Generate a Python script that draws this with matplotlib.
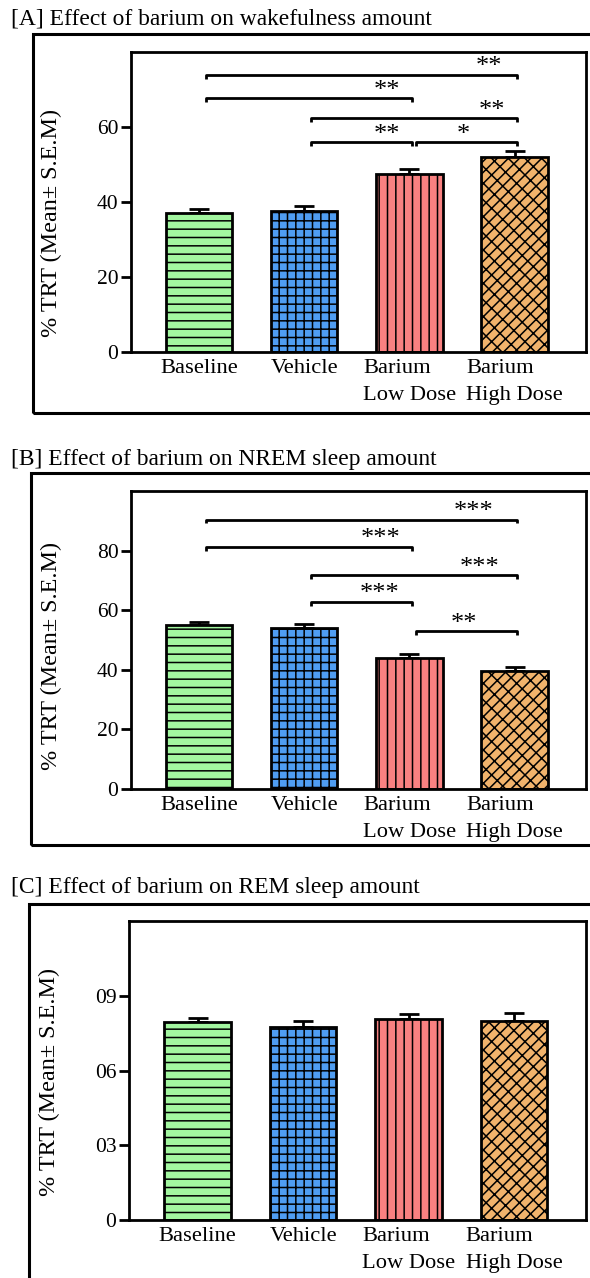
#!/usr/bin/env python3
"""Barium effect on sleep-wake amounts, three stacked bar panels
"""

import numpy as np
import matplotlib; matplotlib.use('Agg')
import matplotlib.pyplot as plt
from matplotlib.patches import Rectangle

plt.rcParams['font.family'] = ['Liberation Serif', 'DejaVu Serif']
plt.rcParams['hatch.linewidth'] = 1.1

W, H = 590, 1278

groups = ['Baseline', 'Vehicle', 'Barium\nLow Dose', 'Barium\nHigh Dose']
colors = ['#a3f7a0', '#4f9df2', '#f98181', '#f1b36c']
hatches = ['--', '++', '||', '///\\\\']

wake_mean = [37.0, 37.5, 47.5, 52.0]
wake_sem = [1.2, 1.5, 1.2, 1.5]
nrem_mean = [55.0, 54.0, 44.0, 39.5]
nrem_sem = [1.2, 1.5, 1.3, 1.5]
rem_mean = [7.95, 7.75, 8.05, 8.0]
rem_sem = [0.15, 0.25, 0.2, 0.3]

# (from group, to group, bracket height, stars, star position along bracket)
wake_sig = [(0, 3, 73.9, '**', 0.91), (0, 2, 67.7, '**', 0.88),
            (1, 3, 62.4, '**', 0.88), (1, 2, 56.0, '**', 0.76),
            (2, 3, 56.0, '*', 0.47)]
nrem_sig = [(0, 3, 90.4, '***', 0.86), (0, 2, 81.3, '***', 0.85),
            (1, 3, 71.7, '***', 0.82), (1, 2, 62.8, '***', 0.68),
            (2, 3, 52.9, '**', 0.48)]

panels = [
    dict(title='[A] Effect of barium on wakefulness amount', mean=wake_mean, sem=wake_sem,
         ylim=80, ticks=[0, 20, 40, 60], ticklabels=['0', '20', '40', '60'], sig=wake_sig,
         title_y=19, box=(33, 34, 413), ax=(131, 586, 52, 352), label_y=0.43),
    dict(title='[B] Effect of barium on NREM sleep amount', mean=nrem_mean, sem=nrem_sem,
         ylim=100, ticks=[0, 20, 40, 60, 80], ticklabels=['0', '20', '40', '60', '80'], sig=nrem_sig,
         title_y=460, box=(31, 473, 845), ax=(131, 586, 491, 789), label_y=0.445),
    dict(title='[C] Effect of barium on REM sleep amount', mean=rem_mean, sem=rem_sem,
         ylim=12, ticks=[0, 3, 6, 9], ticklabels=['0', '03', '06', '09'], sig=[],
         title_y=887, box=(29, 904, 1300), ax=(129, 586, 921, 1220), label_y=0.46),
]

##########################################################
def draw_panel(fig, p):
    """One bar panel with outer frame"""
    x0, top, bot = p['box']
    fig.add_artist(Rectangle((x0 / W, 1 - bot / H), 1.2, (bot - top) / H,
                             transform=fig.transFigure, fill=False, lw=2.2, ec='black'))
    fig.text(11 / W, 1 - p['title_y'] / H, p['title'], fontsize=16.9, va='center', ha='left')

    l, r, t, b = p['ax']
    ax = fig.add_axes([l / W, 1 - b / H, (r - l) / W, (b - t) / H])
    x = np.arange(len(groups))
    ax.bar(x, p['mean'], width=0.63, color=colors, edgecolor='black', linewidth=2.0,
           hatch=hatches, zorder=2)
    ax.errorbar(x, p['mean'], yerr=[np.zeros(len(x)), p['sem']], fmt='none',
                ecolor='black', elinewidth=2.0, capsize=7, capthick=2.0, zorder=1)

    ym = p['ylim']
    drop = ym * 0.013
    for i, j, y, s, f in p['sig']:
        xs, xe = i + 0.06, j + 0.02
        ax.plot([xs, xs, xe, xe], [y - drop, y, y, y - drop], color='black', lw=2.0,
                solid_capstyle='butt')
        ax.text(xs + f * (xe - xs), y - ym * 0.012, s, ha='center', va='bottom',
                fontsize=19)

    ax.set_xlim(-0.65, 3.68)
    ax.set_ylim(0, ym)
    ax.set_yticks(p['ticks'])
    ax.set_yticklabels(p['ticklabels'])
    ax.set_xticks(x)
    ax.set_xticklabels(groups, multialignment='left', linespacing=1.55)
    ax.tick_params(axis='x', length=0, pad=5, labelsize=16.2)
    ax.tick_params(axis='y', length=7, width=2.0, pad=2, labelsize=15.5)
    for sp in ax.spines.values():
        sp.set_linewidth(2.0)
    ax.set_ylabel('% TRT (Mean\u00b1 S.E.M)', fontsize=17.4)
    ax.yaxis.set_label_coords(-0.152, p['label_y'])
    return ax

##########################################################
def main():
    fig = plt.figure(figsize=(W / 100, H / 100), dpi=100)
    for p in panels:
        draw_panel(fig, p)
    fig.savefig('out.png', dpi=100)

##########################################################
if __name__ == "__main__":
    main()
